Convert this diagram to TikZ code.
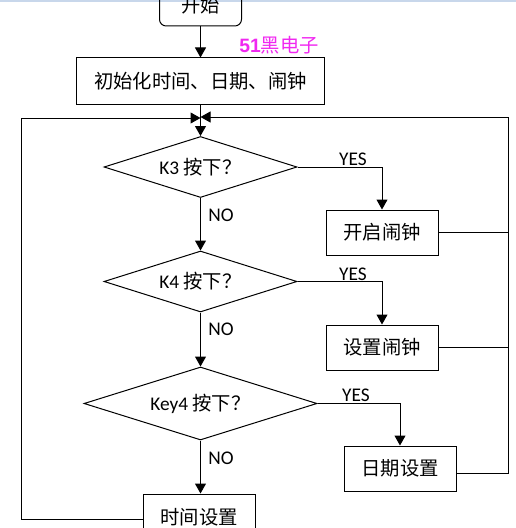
\documentclass[tikz,border=0pt]{standalone}
\usepackage{fontspec}
\setmainfont{Carlito}
\newfontfamily\cjk{Noto Sans CJK SC}
\newfontfamily\lsans{Liberation Sans}
\usetikzlibrary{shapes.geometric,arrows.meta}
\definecolor{mag}{RGB}{240,40,240}
\definecolor{topline}{RGB}{200,215,235}
\newcommand\zh[1]{{\cjk #1}}
\begin{document}
\begin{tikzpicture}[x=0.75pt,y=-0.75pt,
  every node/.style={font=\fontsize{14.5pt}{17pt}\selectfont},
  box/.style={draw, line width=0.75pt, minimum width=84pt, minimum height=33.75pt, inner sep=0pt},
  dia/.style={draw, diamond, line width=0.75pt, inner sep=0pt, minimum width=144.75pt, minimum height=45.75pt, aspect=3.16},
  arr/.style={-{Triangle[length=7.5pt,width=8.25pt]}},
  ln/.style={line width=0.75pt},
  lbl/.style={inner sep=0pt}]
\useasboundingbox (0,0) rectangle (516,528);
\clip (0,0) rectangle (516,528);
\fill[topline] (0,0) rectangle (516,2);
% nodes
\node[draw, rounded corners=5pt, line width=0.75pt, minimum width=61.5pt, minimum height=31.5pt, inner sep=0pt] (start) at (200.5,5) {\zh{开始}};
\node[box, minimum width=186pt, minimum height=34.5pt] (init) at (200.5,81) {\zh{初始化时间、日期、闹钟}};
\node[text=mag, inner sep=0pt] (brand) at (279,45.5) {{\lsans\bfseries 51}\zh{黑电子}};
\coordinate (m) at (200.5,117);
\coordinate (rt) at (508,117);
\coordinate (lt) at (21,118);
\node[dia] (k3) at (200.5,167) {K3 \zh{按下？}};
\node[box] (b1) at (382,232.5) {\zh{开启闹钟}};
\node[dia] (k4) at (200.5,281.5) {K4 \zh{按下？}};
\node[box] (b2) at (382,347.5) {\zh{设置闹钟}};
\node[dia, minimum width=174.75pt, minimum height=54.75pt, aspect=3.19] (k5) at (200.5,403.5) {Key4 \zh{按下？}};
\node[box] (b3) at (400,468.5) {\zh{日期设置}};
\node[box, minimum height=34.5pt] (b4) at (199,517) {\zh{时间设置}};
% labels
\node[lbl] (y1) at (353,159) {YES};
\node[lbl] (n1) at (221,215) {NO};
\node[lbl] (y2) at (353,274) {YES};
\node[lbl] (n2) at (221,329) {NO};
\node[lbl] (y3) at (356,395) {YES};
\node[lbl] (n3) at (221,458) {NO};
% connectors
\draw[ln,arr] (start.south) -- (init.north);
\draw[ln] (init.south) -- (m);
\draw[ln,arr] (m) -- (k3.north);
\draw[ln,arr] (k3.east) -| (b1.north);
\draw[ln] (b1.east) -- (b1.east -| rt);
\draw[ln,arr] (k3.south) -- (k4.north);
\draw[ln,arr] (k4.east) -| (b2.north);
\draw[ln] (b2.east) -- (b2.east -| rt);
\draw[ln,arr] (k4.south) -- (k5.north);
\draw[ln,arr] (k5.east) -| (b3.north);
\draw[ln,arr] ([yshift=-3.4pt]b3.east) -| (rt) -- (m);
\draw[ln,arr] (k5.south) -- (k5.south |- b4.north);
\draw[ln,arr] ([yshift=-1.5pt]b4.west) -| (lt) -- (lt -| m);
\end{tikzpicture}
\end{document}
